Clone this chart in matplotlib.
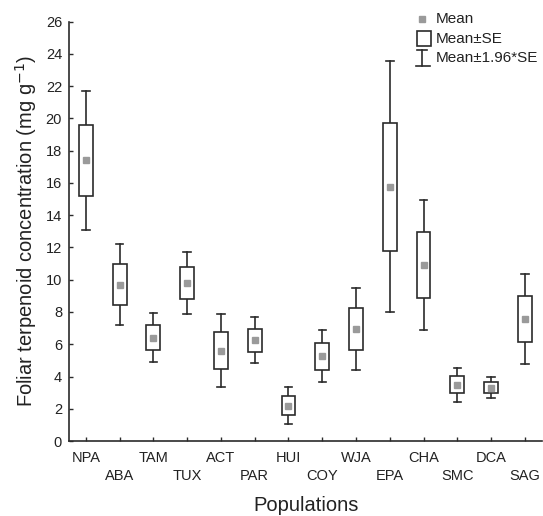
import numpy as np
import matplotlib
matplotlib.use("Agg")
import matplotlib.pyplot as plt
from matplotlib.patches import Rectangle

plt.rcParams['font.family'] = ['Liberation Sans', 'DejaVu Sans']

# Foliar terpenoid concentration per population (mg g-1)
populations = ['NPA', 'ABA', 'TAM', 'TUX', 'ACT', 'PAR', 'HUI',
               'COY', 'WJA', 'EPA', 'CHA', 'SMC', 'DCA', 'SAG']
means = [17.4, 9.7, 6.4, 9.8, 5.6, 6.25, 2.2,
         5.25, 6.97, 15.76, 10.9, 3.5, 3.3, 7.55]
se = [2.2, 1.27, 0.78, 0.98, 1.16, 0.72, 0.58,
      0.82, 1.3, 3.97, 2.06, 0.54, 0.33, 1.43]

ink = '#2b2b2b'
mean_col = '#9a9a9a'

fig = plt.figure(figsize=(5.43, 5.16), dpi=100)
ax = fig.add_axes([0.127, 0.1453, 0.872, 0.8127])

box_w = 0.41
cap_w = 0.22
for i, (m, s) in enumerate(zip(means, se)):
    lo, hi = m - s, m + s
    wlo, whi = m - 1.96 * s, m + 1.96 * s
    ax.add_patch(Rectangle((i - box_w / 2, lo), box_w, hi - lo,
                           facecolor='white', edgecolor=ink, lw=1.2, zorder=3))
    ax.plot([i, i], [hi, whi], color=ink, lw=1.2, zorder=2)
    ax.plot([i, i], [wlo, lo], color=ink, lw=1.2, zorder=2)
    ax.plot([i - cap_w / 2, i + cap_w / 2], [whi, whi], color=ink, lw=1.2, zorder=2)
    ax.plot([i - cap_w / 2, i + cap_w / 2], [wlo, wlo], color=ink, lw=1.2, zorder=2)
    ax.plot(i, m, marker='s', ms=4.5, color=mean_col, mec=mean_col, zorder=4)

ax.set_xlim(-0.5, 13.52)
ax.set_ylim(0, 26)
ax.set_yticks(np.arange(0, 27, 2))
ax.set_xticks(range(len(populations)))
ax.set_xticklabels([p if i % 2 == 0 else '\n' + p for i, p in enumerate(populations)],
                   linespacing=1.35)

for side in ['top', 'right']:
    ax.spines[side].set_visible(False)
for side in ['left', 'bottom']:
    ax.spines[side].set_color(ink)
    ax.spines[side].set_linewidth(1.2)

ax.tick_params(axis='both', direction='in', length=3, width=1, color=ink,
               labelsize=10.5, labelcolor='#222222')
ax.tick_params(axis='y', pad=5)
ax.tick_params(axis='x', pad=7)

ax.set_ylabel('Foliar terpenoid concentration (mg g$^{-1}$)', fontsize=14.5,
              color='#222222', labelpad=5)
ax.set_xlabel('Populations', fontsize=14.5, color='#222222', labelpad=10)

# key in the upper right corner
tr = ax.transAxes
ax.plot(0.745, 1.006, marker='s', ms=4.5, color=mean_col, mec=mean_col,
        transform=tr, clip_on=False)
ax.add_patch(Rectangle((0.736, 0.943), 0.028, 0.035, transform=tr, clip_on=False,
                       facecolor='white', edgecolor=ink, lw=1.2))
ax.plot([0.745, 0.745], [0.895, 0.9325], color=ink, lw=1.2, transform=tr, clip_on=False)
ax.plot([0.733, 0.763], [0.895, 0.895], color=ink, lw=1.2, transform=tr, clip_on=False)
ax.plot([0.736, 0.756], [0.9325, 0.9325], color=ink, lw=1.2, transform=tr, clip_on=False)
for y, txt in zip([1.006, 0.958, 0.913], ['Mean', 'Mean±SE', 'Mean±1.96*SE']):
    ax.text(0.775, y, txt, transform=tr, fontsize=11, color='#222222',
            va='center', ha='left')

fig.savefig('out.png', dpi=100)
